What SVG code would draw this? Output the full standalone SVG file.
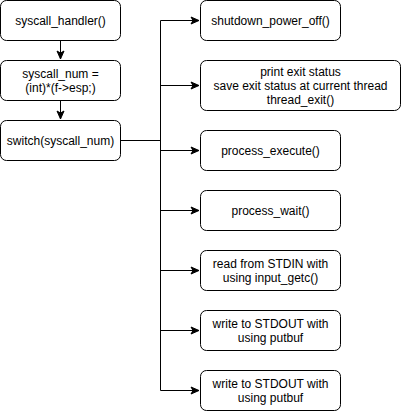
<svg xmlns="http://www.w3.org/2000/svg" width="402" height="412" viewBox="0 0 402 412">
<defs>
<style>
.box{fill:#fff;stroke:#000;stroke-width:1}
.t{font-family:"Liberation Sans",Arial,sans-serif;font-size:12px;fill:#000;text-anchor:middle}
.c{fill:none;stroke:#000;stroke-width:1}
</style>
<marker id="arr" markerUnits="userSpaceOnUse" markerWidth="10" markerHeight="10" viewBox="0 0 10 10" refX="9" refY="5" orient="auto">
<path d="M1,1.5 L9,5 L1,8.5 L3,5 Z" fill="#000" stroke="#000" stroke-width="1"/>
</marker>
</defs>
<rect width="402" height="412" fill="#fff"/>
<g id="connectors">
<path class="c" d="M60.5,40.5 V59" marker-end="url(#arr)"/>
<path class="c" d="M60.5,100.5 V119" marker-end="url(#arr)"/>
<path class="c" d="M120.5,140.5 H160.5"/>
<path class="c" d="M160.5,20.5 V390.5"/>
<path class="c" d="M160.5,20.5 H199" marker-end="url(#arr)"/>
<path class="c" d="M160.5,85.5 H199" marker-end="url(#arr)"/>
<path class="c" d="M160.5,150.5 H199" marker-end="url(#arr)"/>
<path class="c" d="M160.5,210.5 H199" marker-end="url(#arr)"/>
<path class="c" d="M160.5,270.5 H199" marker-end="url(#arr)"/>
<path class="c" d="M160.5,330.5 H199" marker-end="url(#arr)"/>
<path class="c" d="M160.5,390.5 H199" marker-end="url(#arr)"/>
</g>
<g id="n1"><rect class="box" x="0.5" y="0.5" width="120" height="40" rx="6"/><text class="t" x="60.5" y="24.5">syscall_handler()</text></g>
<g id="n2"><rect class="box" x="0.5" y="60.5" width="120" height="40" rx="6"/><text class="t" x="60.5" y="77.5">syscall_num =</text><text class="t" x="60.5" y="91.5">(int)*(f-&gt;esp;)</text></g>
<g id="n3"><rect class="box" x="0.5" y="120.5" width="120" height="40" rx="6"/><text class="t" x="60.5" y="144.5">switch(syscall_num)</text></g>
<g id="r1"><rect class="box" x="200.5" y="0.5" width="140" height="40" rx="6"/><text class="t" x="270.5" y="24.5">shutdown_power_off()</text></g>
<g id="r2"><rect class="box" x="200.5" y="60.5" width="200" height="50" rx="6"/><text class="t" x="300.5" y="75.5">print exit status</text><text class="t" x="300.5" y="89.5">save exit status at current thread</text><text class="t" x="300.5" y="103.5">thread_exit()</text></g>
<g id="r3"><rect class="box" x="200.5" y="130.5" width="140" height="40" rx="6"/><text class="t" x="270.5" y="154.5">process_execute()</text></g>
<g id="r4"><rect class="box" x="200.5" y="190.5" width="140" height="40" rx="6"/><text class="t" x="270.5" y="214.5">process_wait()</text></g>
<g id="r5"><rect class="box" x="200.5" y="250.5" width="140" height="40" rx="6"/><text class="t" x="270.5" y="268">read from STDIN with</text><text class="t" x="270.5" y="282">using input_getc()</text></g>
<g id="r6"><rect class="box" x="200.5" y="310.5" width="140" height="40" rx="6"/><text class="t" x="270.5" y="328">write to STDOUT with</text><text class="t" x="270.5" y="342">using putbuf</text></g>
<g id="r7"><rect class="box" x="200.5" y="370.5" width="140" height="40" rx="6"/><text class="t" x="270.5" y="388">write to STDOUT with</text><text class="t" x="270.5" y="402">using putbuf</text></g>
</svg>
